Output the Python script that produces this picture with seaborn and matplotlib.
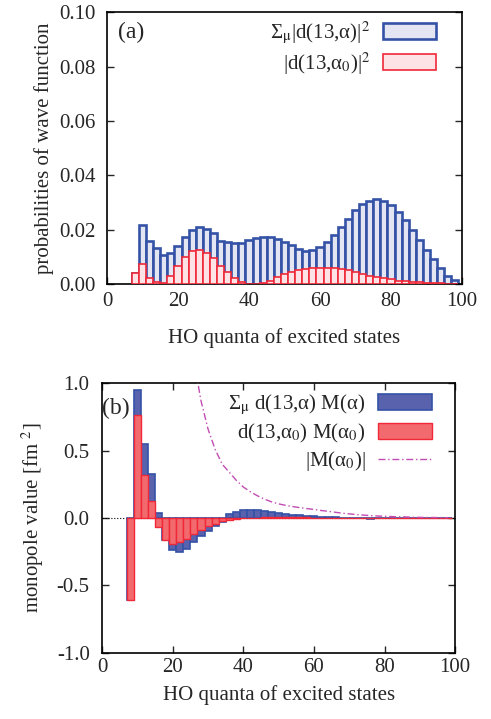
import numpy as np
import matplotlib
matplotlib.use("Agg")
import matplotlib.pyplot as plt
from matplotlib.ticker import MultipleLocator
from matplotlib.patches import Patch
from matplotlib.lines import Line2D
import seaborn as sns

sns.set_theme(style="ticks")
plt.rcParams['font.family'] = ['Liberation Serif', 'DejaVu Serif']
plt.rcParams['mathtext.fontset'] = 'stix'
plt.rcParams['axes.unicode_minus'] = False
plt.rcParams['xtick.direction'] = 'in'
plt.rcParams['ytick.direction'] = 'in'

# HO quanta (bar centres)
quanta = list(range(8, 100, 2))

# panel (a): probabilities
prob_sum = [0.0042, 0.0216, 0.0160, 0.0134, 0.0108, 0.0113, 0.0140, 0.0174, 0.0200, 0.0210,
            0.0202, 0.0186, 0.0160, 0.0153, 0.0150, 0.0152, 0.0162, 0.0171, 0.0174, 0.0174,
            0.0166, 0.0155, 0.0142, 0.0129, 0.0123, 0.0125, 0.0135, 0.0154, 0.0181, 0.0211,
            0.0241, 0.0271, 0.0295, 0.0306, 0.0311, 0.0306, 0.0290, 0.0265, 0.0234, 0.0199,
            0.0162, 0.0125, 0.0091, 0.0058, 0.0031, 0.0015]
prob_a0 = [0.0042, 0.0073, 0.0021, 0.0007, 0.0004, 0.0028, 0.0067, 0.0101, 0.0122, 0.0125,
           0.0115, 0.0094, 0.0066, 0.0043, 0.0021, 0.0007, 0.0001, 0.0001, 0.0005, 0.0012,
           0.0024, 0.0035, 0.0044, 0.0051, 0.0056, 0.0060, 0.0060, 0.0060, 0.0058, 0.0055,
           0.0050, 0.0044, 0.0036, 0.0031, 0.0027, 0.0021, 0.0017, 0.0012, 0.0010, 0.0007,
           0.0006, 0.0005, 0.0004, 0.0002, 0.0001, 0.0001]

# panel (b): monopole contributions
mono_sum = [-0.61, 0.95, 0.55, 0.33, 0.04, -0.165, -0.235, -0.25, -0.23, -0.18,
            -0.13, -0.095, -0.062, -0.027, 0.030, 0.048, 0.058, 0.062, 0.060, 0.055,
            0.048, 0.040, 0.033, 0.026, 0.020, 0.015, 0.012, 0.009, 0.007, 0.005,
            0.003, 0.001, -0.002, -0.003, -0.004, -0.003, -0.002, -0.002, -0.001, -0.001,
            0.0, 0.0, 0.0, 0.0, 0.0, 0.0]
mono_a0 = [-0.61, 0.767, 0.32, 0.13, -0.07, -0.16, -0.19, -0.18, -0.152, -0.12,
           -0.09, -0.062, -0.042, -0.025, -0.012, -0.005, -0.001, 0.002, 0.004, 0.005,
           0.006, 0.006, 0.006, 0.006, 0.005, 0.005, 0.004, 0.004, 0.003, 0.003,
           0.003, 0.002, 0.002, 0.002, 0.001, 0.001, 0.001, 0.001, 0.0, 0.0,
           0.0, 0.0, 0.0, 0.0, 0.0, 0.0]

# |M(alpha_0)| curve
m_quanta = list(range(22, 100, 2))
m_abs = [2.0, 1.55, 1.17, 0.87, 0.66, 0.51, 0.40, 0.34, 0.28, 0.23,
         0.195, 0.165, 0.14, 0.12, 0.105, 0.094, 0.085, 0.077, 0.070, 0.064,
         0.056, 0.050, 0.043, 0.036, 0.031, 0.026, 0.022, 0.018, 0.015, 0.013,
         0.011, 0.009, 0.008, 0.006, 0.005, 0.004, 0.004, 0.003, 0.003]

blue_edge = "#3452a6"
red_edge = "#f02838"
curve_col = "#c24cb4"

lab_sum_a = r'Σ$_\mathrm{μ}$|d(13,α)|$^2$'
lab_a0_a = r'|d(13,α$_0$)|$^2$'
lab_sum_b = r'Σ$_\mathrm{μ}$ d(13,α) M(α)'
lab_a0_b = r'd(13,α$_0$) M(α$_0$)'
lab_m = r'|M(α$_0$)|'

fs = 15

fig = plt.figure(figsize=(4.91, 7.19), dpi=100)
ax1 = fig.add_axes([0.218, 0.605, 0.723, 0.378])
ax2 = fig.add_axes([0.208, 0.092, 0.719, 0.375])

# ---- panel (a)
sns.barplot(x=quanta, y=prob_sum, native_scale=True, width=1.0, color="#e4e5f3",
            saturation=1, edgecolor=blue_edge, linewidth=1.9, errorbar=None, ax=ax1, zorder=2)
sns.barplot(x=quanta, y=prob_a0, native_scale=True, width=1.0, color="#fde3e5",
            saturation=1, edgecolor=red_edge, linewidth=1.2, errorbar=None, ax=ax1, zorder=3)
ax1.set_xlim(0, 100)
ax1.set_ylim(0, 0.10)
ax1.xaxis.set_major_locator(MultipleLocator(20))
ax1.xaxis.set_minor_locator(MultipleLocator(10))
ax1.yaxis.set_major_locator(MultipleLocator(0.02))
ax1.yaxis.set_major_formatter(matplotlib.ticker.FormatStrFormatter('%.2f'))
ax1.tick_params(axis='both', which='both', labelsize=fs, right=True, length=5, width=1)
ax1.tick_params(axis='y', pad=8)
ax1.tick_params(axis='x', pad=6)
ax1.set_xlabel("HO quanta of excited states", fontsize=fs, labelpad=12)
ax1.set_ylabel("probabilities of wave function", fontsize=fs, labelpad=4)
ax1.text(0.03, 0.965, "(a)", transform=ax1.transAxes, fontsize=fs + 2, va='top', ha='left')
h1 = [Patch(facecolor="#e4e5f3", edgecolor=blue_edge, linewidth=1.9),
      Patch(facecolor="#fde3e5", edgecolor=red_edge, linewidth=1.2)]
ax1.legend(h1, [lab_sum_a, lab_a0_a], loc='upper right', frameon=False, markerfirst=False,
           fontsize=fs, handlelength=2.55, handleheight=0.8, labelspacing=0.22,
           handletextpad=0.6, borderaxespad=0.0, bbox_to_anchor=(0.95, 1.005))

# ---- panel (b)
ax2.axhline(0, color='black', linestyle=':', linewidth=0.8, zorder=1)
sns.barplot(x=quanta, y=mono_sum, native_scale=True, width=1.0, color="#5862ad",
            saturation=1, edgecolor=blue_edge, linewidth=1.2, errorbar=None, ax=ax2, zorder=2)
sns.barplot(x=quanta, y=mono_a0, native_scale=True, width=1.0, color="#f26a6e",
            saturation=1, edgecolor=red_edge, linewidth=1.0, errorbar=None, ax=ax2, zorder=3)
sns.lineplot(x=m_quanta, y=m_abs, color=curve_col, linewidth=1.0,
             linestyle=(0, (5, 2, 1, 2)), ax=ax2, zorder=4)
ax2.set_xlim(0, 100)
ax2.set_ylim(-1.0, 1.0)
ax2.xaxis.set_major_locator(MultipleLocator(20))
ax2.yaxis.set_major_locator(MultipleLocator(0.5))
ax2.yaxis.set_major_formatter(matplotlib.ticker.FormatStrFormatter('%.1f'))
ax2.tick_params(axis='both', which='both', labelsize=fs, right=True, top=True, length=5, width=1)
ax2.tick_params(axis='y', pad=9)
ax2.set_xlabel("HO quanta of excited states", fontsize=fs, labelpad=6)
ax2.set_ylabel(r"monopole value [fm $^2$]", fontsize=fs, labelpad=8)
ax2.text(0.0, 0.945, "(b)", transform=ax2.transAxes, fontsize=fs + 2, va='top', ha='left')
h2 = [Patch(facecolor="#5862ad", edgecolor=blue_edge, linewidth=1.2),
      Patch(facecolor="#f26a6e", edgecolor=red_edge, linewidth=1.0),
      Line2D([], [], color=curve_col, linewidth=1.0, linestyle=(0, (5, 2, 1, 2)))]
ax2.legend(h2, [lab_sum_b, lab_a0_b, lab_m], loc='upper right', frameon=False, markerfirst=False,
           fontsize=fs, handlelength=2.6, handleheight=0.8, labelspacing=0.22,
           handletextpad=0.6, borderaxespad=0.0, bbox_to_anchor=(0.958, 0.995))

for ax in (ax1, ax2):
    for sp in ax.spines.values():
        sp.set_linewidth(1.2)
        sp.set_color('black')
        sp.set_visible(True)

fig.savefig("out.png", dpi=100)
